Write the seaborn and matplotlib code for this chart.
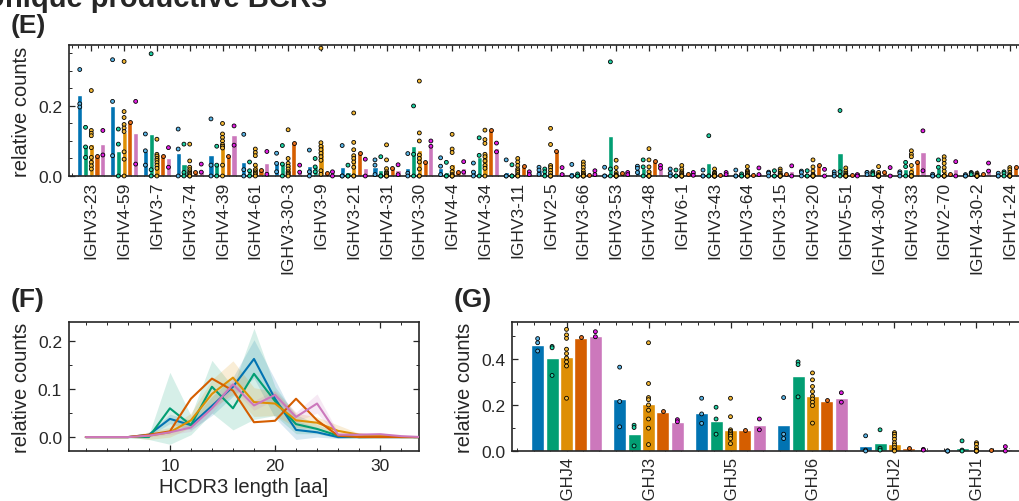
import matplotlib
matplotlib.use("Agg")
import numpy as np
import pandas as pd
import matplotlib.pyplot as plt
import seaborn as sns
from matplotlib.ticker import MultipleLocator

# ---------------------------------------------------------------- data
groups = ["cohort 1", "cohort 2", "cohort 3", "cohort 4", "cohort 5"]
bar_colors = ["#0173b2", "#029e73", "#de8f05", "#d55e00", "#cc78bc"]
dot_colors = ["#5ab4e5", "#1fd1a3", "#f3b735", "#e8701f", "#e41fe4"]

# (E) IGHV usage: mean per cohort
v_genes = ["IGHV3-23", "IGHV4-59", "IGHV3-7", "IGHV3-74", "IGHV4-39", "IGHV4-61",
           "IGHV3-30-3", "IGHV3-9", "IGHV3-21", "IGHV4-31", "IGHV3-30", "IGHV4-4",
           "IGHV4-34", "IGHV3-11", "IGHV2-5", "IGHV3-66", "IGHV3-53", "IGHV3-48",
           "IGHV6-1", "IGHV3-43", "IGHV3-64", "IGHV3-15", "IGHV3-20", "IGHV5-51",
           "IGHV4-30-4", "IGHV3-33", "IGHV2-70", "IGHV4-30-2", "IGHV1-24"]
v_mean_1 = [0.231, 0.199, 0.072, 0.066, 0.061, 0.041, 0.038, 0.029, 0.026, 0.026, 0.024, 0.022, 0.016, 0.012, 0.018,
            0.011, 0.008, 0.020, 0.011, 0.005, 0.005, 0.007, 0.009, 0.006, 0.008, 0.007, 0.002, 0.002, 0.003]
v_mean_2 = [0.089, 0.072, 0.120, 0.034, 0.034, 0.018, 0.037, 0.029, 0.010, 0.018, 0.085, 0.012, 0.053, 0.007, 0.011,
            0.002, 0.114, 0.024, 0.006, 0.037, 0.002, 0.005, 0.005, 0.066, 0.008, 0.021, 0.024, 0.007, 0.007]
v_mean_3 = [0.090, 0.125, 0.062, 0.025, 0.086, 0.031, 0.034, 0.091, 0.058, 0.015, 0.074, 0.034, 0.066, 0.023, 0.037,
            0.014, 0.009, 0.018, 0.009, 0.005, 0.011, 0.011, 0.009, 0.009, 0.005, 0.025, 0.015, 0.002, 0.011]
v_mean_4 = [0.056, 0.153, 0.057, 0.011, 0.058, 0.018, 0.094, 0.008, 0.067, 0.022, 0.040, 0.012, 0.130, 0.029, 0.070,
            0.002, 0.008, 0.043, 0.007, 0.002, 0.002, 0.005, 0.031, 0.002, 0.011, 0.039, 0.005, 0.005, 0.026]
v_mean_5 = [0.091, 0.122, 0.050, 0.018, 0.116, 0.036, 0.018, 0.005, 0.022, 0.018, 0.088, 0.024, 0.081, 0.008, 0.011,
            0.010, 0.007, 0.027, 0.006, 0.007, 0.009, 0.014, 0.007, 0.002, 0.008, 0.068, 0.020, 0.023, 0.006]

# (E) IGHV usage: individual donors
v_donors_1 = [[0.304, 0.206, 0.197], [0.332, 0.213, 0.058], [0.120, 0.072, 0.031], [0.134, 0.077, 0.0],
              [0.163, 0.031, 0.0], [0.119, 0.018, 0.0], [0.065, 0.036, 0.012], [0.074, 0.012, 0.0],
              [0.087, 0.0, 0.0], [0.046, 0.031, 0.004], [0.064, 0.008, 0.0], [0.052, 0.028, 0.004],
              [0.037, 0.011, 0.0], [0.046, 0.0, 0.0], [0.025, 0.017, 0.005], [0.033, 0.0, 0.0],
              [0.025, 0.0, 0.0], [0.028, 0.022, 0.010], [0.020, 0.008, 0.0], [0.017, 0.0, 0.0],
              [0.017, 0.0, 0.0], [0.011, 0.008, 0.0], [0.014, 0.010, 0.0], [0.012, 0.005, 0.0],
              [0.010, 0.010, 0.004], [0.012, 0.008, 0.0], [0.005, 0.0, 0.0], [0.004, 0.0, 0.0],
              [0.008, 0.0, 0.0]]
v_donors_2 = [[0.139, 0.083, 0.053], [0.134, 0.091, 0.0], [0.349, 0.018, 0.0], [0.091, 0.010, 0.0],
              [0.085, 0.031, 0.0], [0.040, 0.015, 0.0], [0.087, 0.034, 0.0], [0.050, 0.026, 0.012],
              [0.031, 0.0, 0.0], [0.055, 0.0, 0.0], [0.200, 0.062, 0.0], [0.039, 0.0, 0.0],
              [0.109, 0.059, 0.0], [0.032, 0.0, 0.0], [0.020, 0.012, 0.0], [0.006, 0.0, 0.0],
              [0.326, 0.020, 0.0], [0.046, 0.026, 0.0], [0.017, 0.0, 0.0], [0.115, 0.0, 0.0],
              [0.006, 0.0, 0.0], [0.015, 0.0, 0.0], [0.015, 0.0, 0.0], [0.187, 0.012, 0.0],
              [0.012, 0.008, 0.004], [0.039, 0.027, 0.0], [0.046, 0.025, 0.0], [0.010, 0.008, 0.004],
              [0.012, 0.008, 0.0]]
v_donors_3 = [[0.244, 0.130, 0.122, 0.115, 0.081, 0.053, 0.039, 0.029, 0.020],
              [0.327, 0.184, 0.167, 0.147, 0.137, 0.127, 0.069, 0.048, 0.0],
              [0.105, 0.062, 0.057, 0.050, 0.045, 0.038, 0.030, 0.022, 0.0],
              [0.091, 0.043, 0.025, 0.018, 0.012, 0.008, 0.004, 0.0, 0.0],
              [0.150, 0.120, 0.110, 0.100, 0.090, 0.085, 0.080, 0.031, 0.0],
              [0.077, 0.067, 0.058, 0.031, 0.018, 0.012, 0.008, 0.004, 0.0],
              [0.132, 0.050, 0.036, 0.028, 0.020, 0.012, 0.008, 0.004, 0.0],
              [0.365, 0.095, 0.085, 0.075, 0.065, 0.055, 0.045, 0.015, 0.005],
              [0.180, 0.096, 0.075, 0.058, 0.050, 0.040, 0.025, 0.0, 0.0],
              [0.089, 0.046, 0.021, 0.012, 0.008, 0.004, 0.0, 0.0, 0.0],
              [0.271, 0.123, 0.100, 0.060, 0.050, 0.040, 0.020, 0.0, 0.0],
              [0.119, 0.077, 0.067, 0.024, 0.012, 0.004, 0.0, 0.0, 0.0],
              [0.131, 0.104, 0.093, 0.062, 0.055, 0.043, 0.030, 0.022, 0.0],
              [0.050, 0.040, 0.030, 0.020, 0.015, 0.010, 0.004, 0.0, 0.0],
              [0.136, 0.090, 0.030, 0.024, 0.016, 0.008, 0.0, 0.0, 0.0],
              [0.040, 0.032, 0.024, 0.015, 0.008, 0.004, 0.0, 0.0, 0.0],
              [0.045, 0.024, 0.010, 0.004, 0.0, 0.0, 0.0, 0.0, 0.0],
              [0.078, 0.046, 0.026, 0.012, 0.0, 0.0, 0.0, 0.0, 0.0],
              [0.030, 0.020, 0.012, 0.008, 0.004, 0.0, 0.0, 0.0, 0.0],
              [0.020, 0.010, 0.008, 0.004, 0.0, 0.0, 0.0, 0.0, 0.0],
              [0.027, 0.015, 0.012, 0.008, 0.004, 0.0, 0.0, 0.0, 0.0],
              [0.020, 0.014, 0.008, 0.004, 0.0, 0.0, 0.0, 0.0, 0.0],
              [0.046, 0.026, 0.014, 0.004, 0.0, 0.0, 0.0, 0.0, 0.0],
              [0.023, 0.014, 0.008, 0.004, 0.0, 0.0, 0.0, 0.0, 0.0],
              [0.027, 0.010, 0.004, 0.0, 0.0, 0.0, 0.0, 0.0, 0.0],
              [0.072, 0.062, 0.055, 0.030, 0.010, 0.0, 0.0, 0.0, 0.0],
              [0.055, 0.046, 0.036, 0.024, 0.014, 0.0, 0.0, 0.0, 0.0],
              [0.008, 0.004, 0.0, 0.0, 0.0, 0.0, 0.0, 0.0, 0.0],
              [0.024, 0.018, 0.010, 0.004, 0.0, 0.0, 0.0, 0.0, 0.0]]
v_donors_4 = [[m] for m in v_mean_4]
v_donors_5 = [[0.130, 0.060], [0.213, 0.034], [0.081, 0.025], [0.034, 0.011], [0.143, 0.088],
              [0.070, 0.005], [0.031, 0.011], [0.012, 0.0], [0.048, 0.0], [0.032, 0.004],
              [0.100, 0.085], [0.041, 0.011], [0.094, 0.069], [0.012, 0.004], [0.024, 0.004],
              [0.015, 0.004], [0.010, 0.004], [0.030, 0.022], [0.010, 0.002], [0.010, 0.004],
              [0.023, 0.004], [0.029, 0.0], [0.019, 0.0], [0.004, 0.0], [0.024, 0.0],
              [0.129, 0.015], [0.041, 0.0], [0.037, 0.014], [0.010, 0.002]]

# (F) HCDR3 length distribution: mean and spread per cohort
cdr3_len = [2, 4, 6, 8, 10, 12, 14, 16, 18, 20, 22, 24, 26, 28, 30, 32, 34]
cdr3_mean_1 = [0, 0, 0, 0.005, 0.038, 0.025, 0.065, 0.105, 0.163, 0.080, 0.015, 0.010, 0.0, 0.0, 0.0, 0.0, 0.0]
cdr3_mean_2 = [0, 0, 0, 0.0, 0.060, 0.025, 0.105, 0.060, 0.132, 0.075, 0.027, 0.017, 0.003, 0.0, 0.0, 0.0, 0.0]
cdr3_mean_3 = [0, 0, 0, 0.003, 0.010, 0.035, 0.090, 0.124, 0.073, 0.070, 0.035, 0.030, 0.013, 0.005, 0.003, 0.0, 0.0]
cdr3_mean_4 = [0, 0, 0, 0.005, 0.012, 0.080, 0.122, 0.097, 0.031, 0.034, 0.080, 0.035, 0.003, 0.0, 0.0, 0.0, 0.0]
cdr3_mean_5 = [0, 0, 0, 0.003, 0.010, 0.020, 0.060, 0.110, 0.066, 0.088, 0.042, 0.070, 0.005, 0.005, 0.006, 0.002, 0.0]
cdr3_sd_1 = [0, 0, 0, 0.003, 0.010, 0.010, 0.020, 0.020, 0.040, 0.040, 0.020, 0.010, 0.003, 0, 0, 0, 0]
cdr3_sd_2 = [0, 0, 0, 0.005, 0.075, 0.020, 0.055, 0.045, 0.095, 0.030, 0.020, 0.010, 0.005, 0.003, 0, 0, 0]
cdr3_sd_3 = [0, 0, 0, 0.008, 0.010, 0.015, 0.030, 0.035, 0.030, 0.025, 0.015, 0.012, 0.012, 0.003, 0.002, 0, 0]
cdr3_sd_4 = [0] * 17
cdr3_sd_5 = [0, 0, 0, 0.003, 0.005, 0.008, 0.010, 0.010, 0.010, 0.010, 0.010, 0.020, 0.005, 0.003, 0.003, 0, 0]

# (G) IGHJ usage
j_genes = ["IGHJ4", "IGHJ3", "IGHJ5", "IGHJ6", "IGHJ2", "IGHJ1"]
j_mean_1 = [0.458, 0.225, 0.166, 0.115, 0.020, 0.002]
j_mean_2 = [0.404, 0.073, 0.130, 0.327, 0.034, 0.012]
j_mean_3 = [0.410, 0.203, 0.092, 0.238, 0.029, 0.006]
j_mean_4 = [0.490, 0.171, 0.089, 0.219, 0.012, 0.002]
j_mean_5 = [0.500, 0.128, 0.112, 0.229, 0.004, 0.007]
j_donors_1 = [[0.488, 0.470, 0.434], [0.364, 0.215, 0.105], [0.229, 0.161, 0.120],
              [0.232, 0.073, 0.054], [0.066, 0.004, 0.0], [0.0, 0.0, 0.0]]
j_donors_2 = [[0.454, 0.448, 0.328], [0.112, 0.102, 0.022], [0.190, 0.139, 0.073],
              [0.387, 0.375, 0.235], [0.092, 0.012, 0.004], [0.044, 0.004, 0.0]]
j_donors_3 = [[0.528, 0.504, 0.489, 0.442, 0.423, 0.404, 0.387, 0.369, 0.229],
              [0.470, 0.293, 0.232, 0.223, 0.200, 0.177, 0.139, 0.099, 0.028],
              [0.229, 0.149, 0.092, 0.085, 0.079, 0.072, 0.065, 0.054, 0.032],
              [0.339, 0.309, 0.280, 0.258, 0.238, 0.226, 0.212, 0.197, 0.121],
              [0.080, 0.073, 0.063, 0.051, 0.036, 0.026, 0.015, 0.004, 0.0],
              [0.036, 0.029, 0.015, 0.004, 0.0, 0.0, 0.0, 0.0, 0.0]]
j_donors_4 = [[0.495], [0.172], [0.092], [0.222], [0.015], [0.003]]
j_donors_5 = [[0.518, 0.496], [0.136, 0.127], [0.139, 0.092], [0.253, 0.212], [0.007, 0.004], [0.019, 0.0]]


def long_means(cats, means, key):
    rows = []
    for g, vals in zip(groups, means):
        for c, v in zip(cats, vals):
            rows.append({key: c, "group": g, "value": v})
    return pd.DataFrame(rows)


def long_donors(cats, donors, key):
    rows = []
    for g, per_cat in zip(groups, donors):
        for c, vals in zip(cats, per_cat):
            for v in vals:
                rows.append({key: c, "group": g, "value": v})
    return pd.DataFrame(rows)


v_bars = long_means(v_genes, [v_mean_1, v_mean_2, v_mean_3, v_mean_4, v_mean_5], "gene")
v_dots = long_donors(v_genes, [v_donors_1, v_donors_2, v_donors_3, v_donors_4, v_donors_5], "gene")
j_bars = long_means(j_genes, [j_mean_1, j_mean_2, j_mean_3, j_mean_4, j_mean_5], "gene")
j_dots = long_donors(j_genes, [j_donors_1, j_donors_2, j_donors_3, j_donors_4, j_donors_5], "gene")
cdr3 = long_means(cdr3_len, [cdr3_mean_1, cdr3_mean_2, cdr3_mean_3, cdr3_mean_4, cdr3_mean_5], "length")
cdr3_sd = [cdr3_sd_1, cdr3_sd_2, cdr3_sd_3, cdr3_sd_4, cdr3_sd_5]

# ---------------------------------------------------------------- style
sns.set_theme(style="ticks")
plt.rcParams["font.family"] = ["Liberation Sans", "DejaVu Sans"]
plt.rcParams.update({
    "axes.linewidth": 1.2,
    "axes.edgecolor": "#262626",
    "xtick.direction": "in",
    "ytick.direction": "in",
    "xtick.top": True,
    "ytick.right": True,
    "xtick.major.size": 4,
    "ytick.major.size": 4,
    "xtick.minor.size": 2.2,
    "ytick.minor.size": 2.2,
    "xtick.major.width": 0.9,
    "ytick.major.width": 0.9,
    "xtick.minor.width": 0.7,
    "ytick.minor.width": 0.7,
    "xtick.labelsize": 12.5,
    "ytick.labelsize": 12.5,
    "axes.labelsize": 14.5,
})

W, H = 1019, 502
fig = plt.figure(figsize=(W / 100, H / 100), dpi=100)


def px_axes(left, top, right, bottom):
    return fig.add_axes([left / W, 1 - bottom / H, (right - left) / W, (bottom - top) / H])


BAR_W = 0.88


def usage_panel(ax, bars, dots, cats, xpad=3.5, xsize=12.5):
    sns.barplot(data=bars, x="gene", y="value", hue="group", order=cats, hue_order=groups,
                palette=bar_colors, width=BAR_W, gap=0.1, errorbar=None, saturation=1,
                legend=False, ax=ax, zorder=2)
    sns.stripplot(data=dots, x="gene", y="value", hue="group", order=cats, hue_order=groups,
                  palette=dot_colors, dodge=True, jitter=False, size=2.8, edgecolor="black",
                  linewidth=0.6, legend=False, ax=ax, zorder=3, clip_on=False)
    # spread the donor dots to the same dodge width as the bars
    for coll in ax.collections:
        off = coll.get_offsets()
        if len(off):
            centre = np.round(off[:, 0])
            off[:, 0] = centre + (off[:, 0] - centre) * (BAR_W / 0.8)
            coll.set_offsets(off)
    ax.set_xlabel("")
    ax.set_ylabel("relative counts", labelpad=5)
    ax.xaxis.set_minor_locator(MultipleLocator(0.2))
    ax.tick_params(axis="x", which="both", top=True, bottom=True)
    ax.tick_params(axis="y", which="both", left=True, right=True)
    ax.tick_params(axis="x", labelrotation=90, pad=xpad, labelsize=xsize)
    ax.tick_params(axis="y", pad=5)


# ---------------------------------------------------------------- (E)
axE = px_axes(69, 46, 1059, 177)
usage_panel(axE, v_bars, v_dots, v_genes)
axE.set_xlim(-0.68, 29.5)
axE.set_ylim(0, 0.374)
axE.yaxis.set_major_locator(MultipleLocator(0.2))
axE.yaxis.set_minor_locator(MultipleLocator(0.05))

# ---------------------------------------------------------------- (F)
axF = px_axes(69, 323, 419, 452)
sns.lineplot(data=cdr3, x="length", y="value", hue="group", hue_order=groups,
             palette=bar_colors, linewidth=1.5, legend=False, ax=axF, zorder=3)
for g, col, sd in zip(groups, bar_colors, cdr3_sd):
    m = cdr3.loc[cdr3["group"] == g, "value"].to_numpy()
    s = np.asarray(sd)
    axF.fill_between(cdr3_len, m - s, m + s, color=col, alpha=0.16, linewidth=0, zorder=2)
axF.set_xlim(0.4, 33.7)
axF.set_ylim(-0.029, 0.24)
axF.xaxis.set_major_locator(MultipleLocator(10))
axF.xaxis.set_minor_locator(MultipleLocator(2))
axF.yaxis.set_major_locator(MultipleLocator(0.1))
axF.yaxis.set_minor_locator(MultipleLocator(0.05))
axF.tick_params(which="both", top=True, right=True)
axF.tick_params(axis="both", pad=5)
axF.set_xlabel("HCDR3 length [aa]", labelpad=3)
axF.set_ylabel("relative counts", labelpad=5)

# ---------------------------------------------------------------- (G)
axG = px_axes(512, 323, 1031, 452)
usage_panel(axG, j_bars, j_dots, j_genes, xpad=2.5, xsize=12)
axG.set_xlim(-0.665, 5.665)
axG.set_ylim(0, 0.56)
axG.yaxis.set_major_locator(MultipleLocator(0.2))
axG.yaxis.set_minor_locator(MultipleLocator(0.1))

# ---------------------------------------------------------------- panel letters
fig.text(-16 / W, 1 - 7 / H, "Unique productive BCRs", fontsize=21, weight="bold",
         va="baseline", ha="left", color="#262626")
for label, x, y in [("(E)", 11, 26), ("(F)", 11, 300), ("(G)", 454, 300)]:
    fig.text(x / W, 1 - y / H, label, fontsize=19, weight="bold", va="center", ha="left",
             color="#262626")

fig.savefig("out.png", dpi=100)
